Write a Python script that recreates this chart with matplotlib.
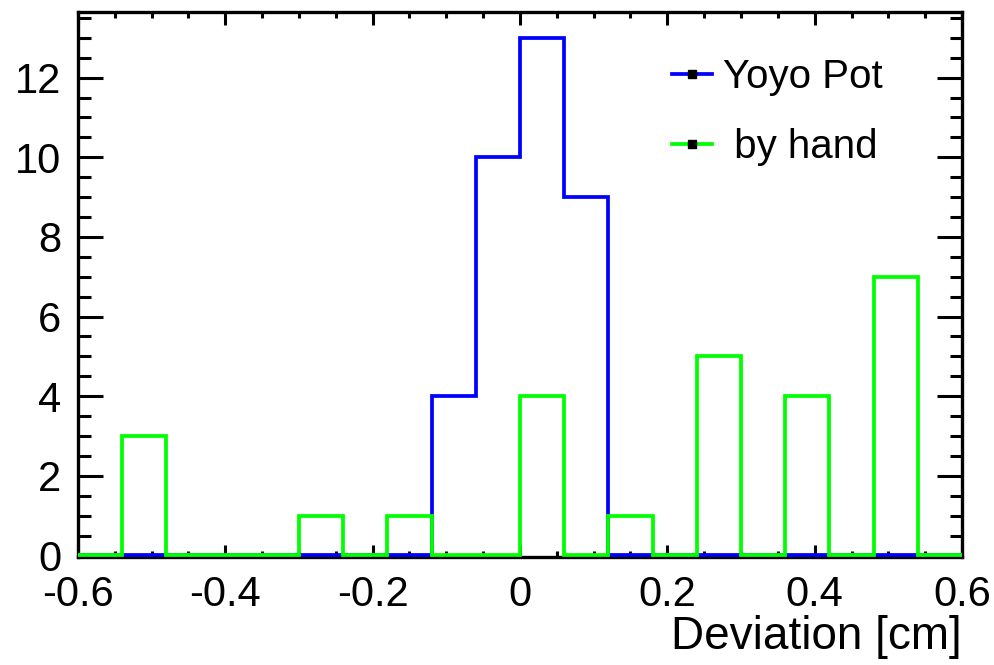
import numpy as np
import matplotlib.pyplot as plt
from matplotlib.lines import Line2D
from matplotlib.ticker import MultipleLocator

plt.rcParams['font.family'] = ['Liberation Sans', 'DejaVu Sans']

# histogram bins: 20 bins from -0.6 to 0.6
edges = np.linspace(-0.6, 0.6, 21)
yoyo_pot = [0, 0, 0, 0, 0, 0, 0, 0, 4, 10, 13, 9, 0, 0, 0, 0, 0, 0, 0, 0]
by_hand = [0, 3, 0, 0, 0, 1, 0, 1, 0, 0, 4, 0, 1, 0, 5, 0, 4, 0, 7, 0]

fig = plt.figure(figsize=(9.95, 6.65), dpi=100)
ax = fig.add_axes([78/995, 1 - 557/665, 884/995, 545/665])

ax.stairs(yoyo_pot, edges, color='#0000ff', linewidth=2.7, baseline=0, zorder=3)
ax.stairs(by_hand, edges, color='#00ff00', linewidth=2.7, baseline=0, zorder=3)

ax.set_xlim(-0.6, 0.6)
ax.set_ylim(-0.04, 13.65)

ax.xaxis.set_major_locator(MultipleLocator(0.2))
ax.xaxis.set_minor_locator(MultipleLocator(0.05))
ax.yaxis.set_major_locator(MultipleLocator(2))
ax.yaxis.set_minor_locator(MultipleLocator(0.5))

ax.tick_params(which='both', direction='in', top=True, right=True, width=2.2,
               labelsize=30)
ax.tick_params(axis='x', which='major', length=9, pad=13)
ax.tick_params(axis='x', which='minor', length=4.5)
ax.tick_params(axis='y', which='major', length=18, pad=12)
ax.tick_params(axis='y', which='minor', length=9)
ax.set_xticks([-0.6, -0.4, -0.2, 0, 0.2, 0.4, 0.6])
ax.set_xticklabels(['-0.6', '-0.4', '-0.2', '0', '0.2', '0.4', '0.6'])

for s in ax.spines.values():
    s.set_linewidth(2.4)

ax.set_xlabel('Deviation [cm]', fontsize=33, loc='right', labelpad=0)

handles = [
    Line2D([], [], color='#0000ff', lw=2.7, marker='s', markersize=6,
           markerfacecolor='black', markeredgecolor='black'),
    Line2D([], [], color='#00ff00', lw=2.7, marker='s', markersize=6,
           markerfacecolor='black', markeredgecolor='black'),
]
ax.legend(handles, ['Yoyo Pot', ' by hand'], loc='upper left',
          bbox_to_anchor=(0.654, 0.945), frameon=False, fontsize=29,
          handlelength=0.98, handletextpad=0.28, labelspacing=0.8,
          borderaxespad=0)

fig.savefig('out.png', dpi=100)
